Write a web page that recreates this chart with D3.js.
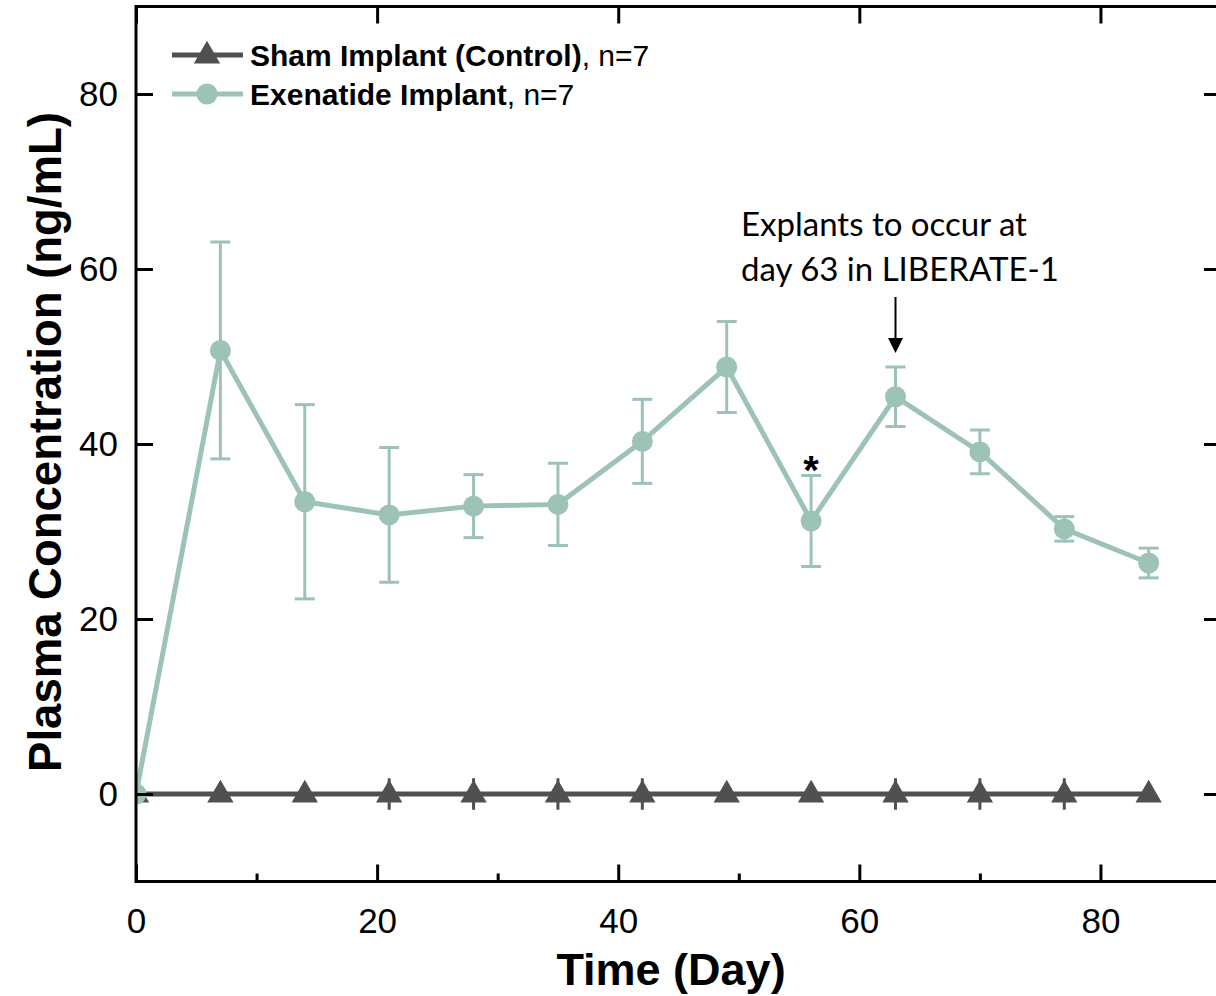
<!DOCTYPE html>
<html>
<head>
<meta charset="utf-8">
<script src="https://cdn.jsdelivr.net/npm/d3@7"></script>
<style>
  html, body { margin: 0; padding: 0; background: #fff; }
  svg { display: block; }
</style>
</head>
<body>
<svg id="chart" width="1216" height="996"></svg>
<script>
// ---- data ----
const days = [0, 7, 14, 21, 28, 35, 42, 49, 56, 63, 70, 77, 84];
const exenatideMean = [0, 50.7, 33.4, 31.9, 32.9, 33.1, 40.3, 48.8, 31.2, 45.4, 39.1, 30.3, 26.4];
const exenatideErr  = [0, 12.4, 11.1, 7.7, 3.6, 4.7, 4.8, 5.2, 5.2, 3.4, 2.5, 1.4, 1.7];
const shamMean = [0, 0, 0, 0, 0, 0, 0, 0, 0, 0, 0, 0, 0];
const shamErr  = [0, 0, 0, 1.8, 1.8, 1.8, 1.8, 0, 0, 1.8, 1.8, 1.8, 0];
const xTicks = [0, 20, 40, 60, 80];
const xMinorTicks = [10, 30, 50, 70];
const yTicks = [0, 20, 40, 60, 80];
const legendLabels = [
  { bold: "Sham Implant (Control)", rest: ", n=7", key: "sham" },
  { bold: "Exenatide Implant", rest: ", n=7", key: "exe" }
];
const annotationLines = ["Explants to occur at", "day 63 in LIBERATE-1"];
const annotationDay = 63;
const starDay = 56;

// ---- layout ----
const colExe = "#9dc3b6";
const colSham = "#505050";
const pL = 136, pR = 1221, pT = 6.5, pB = 881.5;

const svg = d3.select("#chart");
const x = d3.scaleLinear().domain([0, 90]).range([pL, pR]);
const y = d3.scaleLinear().domain([-10, 90]).range([pB, pT]);

svg.append("defs").append("clipPath").attr("id", "plotclip")
  .append("rect").attr("x", pL).attr("y", pT).attr("width", pR - pL).attr("height", pB - pT);

const plot = svg.append("g").attr("clip-path", "url(#plotclip)");
const line = d3.line().x((d, i) => x(days[i])).y(d => y(d));

// sham series
const shamG = plot.append("g");
days.forEach((dd, i) => {
  if (shamErr[i] > 0) {
    shamG.append("line")
      .attr("x1", x(dd)).attr("x2", x(dd))
      .attr("y1", y(shamMean[i] + shamErr[i])).attr("y2", y(shamMean[i] - shamErr[i]))
      .attr("stroke", colSham).attr("stroke-width", 3);
  }
});
shamG.append("path").datum(shamMean).attr("d", line)
  .attr("fill", "none").attr("stroke", colSham).attr("stroke-width", 5);
const tri = d3.symbol().type(d3.symbolTriangle).size(300);
shamG.selectAll("path.tri").data(shamMean).join("path").attr("class", "tri")
  .attr("d", tri)
  .attr("transform", (d, i) => `translate(${x(days[i])},${y(d) + 1})`)
  .attr("fill", colSham);

// exenatide series
const exeG = plot.append("g");
days.forEach((dd, i) => {
  if (exenatideErr[i] > 0) {
    const cx = x(dd), y1 = y(exenatideMean[i] + exenatideErr[i]), y2 = y(exenatideMean[i] - exenatideErr[i]);
    exeG.append("line").attr("x1", cx).attr("x2", cx).attr("y1", y1).attr("y2", y2)
      .attr("stroke", colExe).attr("stroke-width", 3);
    [y1, y2].forEach(yy => exeG.append("line")
      .attr("x1", cx - 10).attr("x2", cx + 10).attr("y1", yy).attr("y2", yy)
      .attr("stroke", colExe).attr("stroke-width", 3));
  }
});
exeG.append("path").datum(exenatideMean).attr("d", line)
  .attr("fill", "none").attr("stroke", colExe).attr("stroke-width", 5);
exeG.selectAll("circle").data(exenatideMean).join("circle")
  .attr("cx", (d, i) => x(days[i])).attr("cy", d => y(d)).attr("r", 10.5)
  .attr("fill", colExe);

// ---- axes ----
const axG = svg.append("g");
const tickFont = "'Liberation Sans', Arial, sans-serif";
const xAxis = axG.append("g").attr("transform", `translate(0,${pB})`)
  .call(d3.axisBottom(x).tickValues(xTicks).tickSize(-17).tickPadding(27).tickFormat(d3.format("d")));
const xMinor = axG.append("g").attr("transform", `translate(0,${pB})`)
  .call(d3.axisBottom(x).tickValues(xMinorTicks).tickSize(-8).tickFormat(""));
const xTop = axG.append("g").attr("transform", `translate(0,${pT})`)
  .call(d3.axisTop(x).tickValues(xTicks).tickSize(-17).tickFormat(""));
const yAxis = axG.append("g").attr("transform", `translate(${pL},0)`)
  .call(d3.axisLeft(y).tickValues(yTicks).tickSize(-17).tickPadding(18).tickFormat(d3.format("d")));
const yRight = axG.append("g").attr("transform", `translate(${pR},0)`)
  .call(d3.axisRight(y).tickValues(yTicks).tickSize(-17).tickFormat(""));

axG.selectAll(".tick line").attr("stroke", "#000").attr("stroke-width", 3);
axG.selectAll(".tick text").attr("font-family", tickFont).attr("font-size", 35).attr("fill", "#000");
[xAxis, xMinor, xTop, yAxis, yRight].forEach(g => g.select(".domain").remove());
axG.append("rect").attr("x", pL).attr("y", pT).attr("width", pR - pL).attr("height", pB - pT)
  .attr("fill", "none").attr("stroke", "#000").attr("stroke-width", 3);

// ---- axis titles ----
svg.append("text").attr("x", 671).attr("y", 985).attr("text-anchor", "middle")
  .attr("font-family", tickFont).attr("font-weight", "bold").attr("font-size", 45)
  .text("Time (Day)");
svg.append("text").attr("transform", `translate(61,442) rotate(-90)`).attr("text-anchor", "middle")
  .attr("font-family", tickFont).attr("font-weight", "bold").attr("font-size", 45.5)
  .text("Plasma Concentration (ng/mL)");

// ---- legend ----
const legY = [55, 94];
legendLabels.forEach((L, i) => {
  const g = svg.append("g").attr("transform", `translate(0,${legY[i]})`);
  const col = L.key === "sham" ? colSham : colExe;
  g.append("line").attr("x1", 172).attr("x2", 243).attr("y1", 0).attr("y2", 0)
    .attr("stroke", col).attr("stroke-width", 5);
  if (L.key === "sham") {
    g.append("path").attr("d", tri).attr("transform", "translate(207,1)").attr("fill", col);
  } else {
    g.append("circle").attr("cx", 207).attr("cy", 0).attr("r", 10.5).attr("fill", col);
  }
  const t = g.append("text").attr("x", 250).attr("y", 10.5)
    .attr("font-family", tickFont).attr("font-size", 30).attr("fill", "#000");
  t.append("tspan").attr("font-weight", "bold").text(L.bold);
  t.append("tspan").text(L.rest);
});

// ---- annotation ----
const annFont = "Lato, 'Open Sans', sans-serif";
annotationLines.forEach((s, i) => {
  svg.append("text").attr("x", 741).attr("y", 236 + i * 45)
    .attr("font-family", annFont).attr("font-size", 33).attr("fill", "#000").text(s);
});
const ax = x(annotationDay);
svg.append("line").attr("x1", ax).attr("x2", ax).attr("y1", 297).attr("y2", 340)
  .attr("stroke", "#000").attr("stroke-width", 2);
svg.append("path").attr("d", `M${ax - 7.5},${338} L${ax + 7.5},${338} L${ax},${353} Z`).attr("fill", "#000");

// asterisk
const si = days.indexOf(starDay);
svg.append("text").attr("x", x(starDay)).attr("y", y(exenatideMean[si] + exenatideErr[si]) + 8)
  .attr("text-anchor", "middle").attr("font-family", tickFont).attr("font-weight", "bold")
  .attr("font-size", 40).text("*");
</script>
</body>
</html>
